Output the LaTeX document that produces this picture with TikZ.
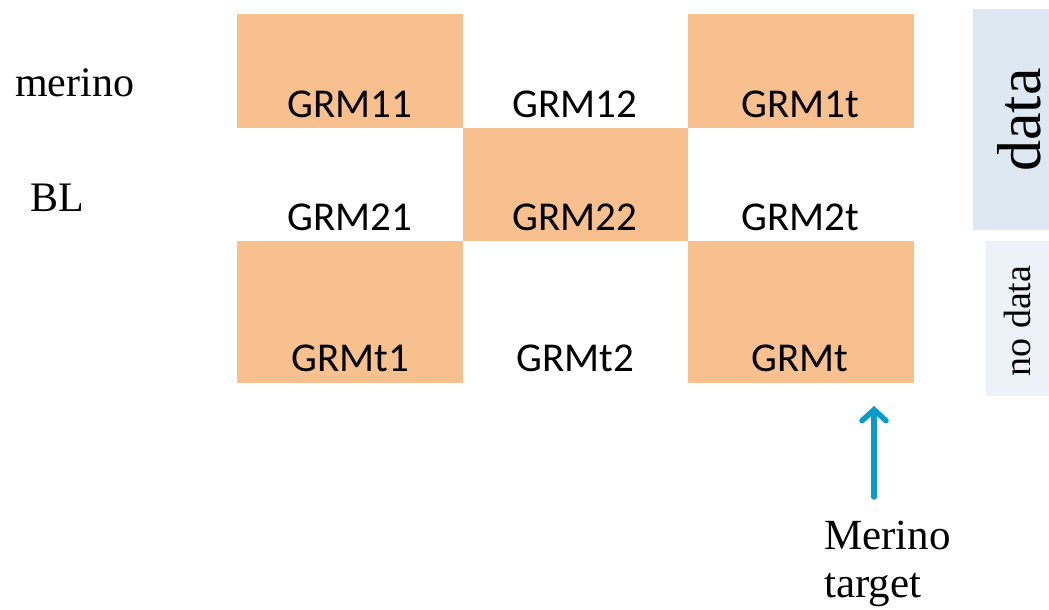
\documentclass[tikz,border=0pt]{standalone}
\usepackage{fontspec}
\setmainfont{Liberation Serif}
\newfontfamily\calib{Carlito}
\usetikzlibrary{arrows.meta}
\definecolor{cellorange}{HTML}{F8BF8F}
\definecolor{databox}{HTML}{DDE8F3}
\definecolor{nodatabox}{HTML}{EDF2F9}
\definecolor{arrowblue}{HTML}{0A9BCD}
\begin{document}
\begin{tikzpicture}[x=1pt,y=-1pt,
  cell/.style={fill=cellorange},
  grm/.style={font=\calib\fontsize{41}{45}\selectfont, inner sep=0pt, anchor=base},
  serif/.style={font=\fontsize{42}{46}\selectfont, inner sep=0pt}]
\useasboundingbox (0,0) rectangle (1049,610);
% coloured cells
\fill[cellorange] (237,14) rectangle (463,128);
\fill[cellorange] (688,14) rectangle (914,128);
\fill[cellorange] (463,128) rectangle (688,241);
\fill[cellorange] (237,241) rectangle (463,383);
\fill[cellorange] (688,241) rectangle (914,383);
% side boxes
\fill[databox] (973,9) rectangle (1049,230);
\fill[nodatabox] (986,241) rectangle (1049,396);
% cell labels
\node[grm] (g11) at (350,117) {GRM11};
\node[grm] (g12) at (575,117) {GRM12};
\node[grm] (g1t) at (800,117) {GRM1t};
\node[grm] (g21) at (350,230) {GRM21};
\node[grm] (g22) at (575,230) {GRM22};
\node[grm] (g2t) at (800,230) {GRM2t};
\node[grm] (gt1) at (350,371) {GRMt1};
\node[grm] (gt2) at (575,371) {GRMt2};
\node[grm] (gt) at (800,371) {GRMt};
% row labels
\node[serif, anchor=base west] (merino) at (15,96) {merino};
\node[serif, anchor=base west] (bl) at (30,211) {BL};
% side labels
\node[font=\fontsize{62}{66}\selectfont, inner sep=0pt, rotate=90, anchor=base] (data) at (1040,120) {data};
\node[font=\fontsize{38}{42}\selectfont, inner sep=0pt, rotate=90, anchor=base] (nodata) at (1030,321) {no data};
% target label and arrow
\node[font=\fontsize{43}{48}\selectfont, inner sep=0pt, anchor=base west, align=left] (target) at (824,597) {Merino\\target};
\coordinate (arrtop) at (874,406);
\coordinate (arrbot) at (874,497);
\draw[arrowblue, line width=5.5pt, line cap=round, -{Straight Barb[length=11pt,width=24pt,line cap=round]}] (arrbot) -- (arrtop);
\end{tikzpicture}
\end{document}
